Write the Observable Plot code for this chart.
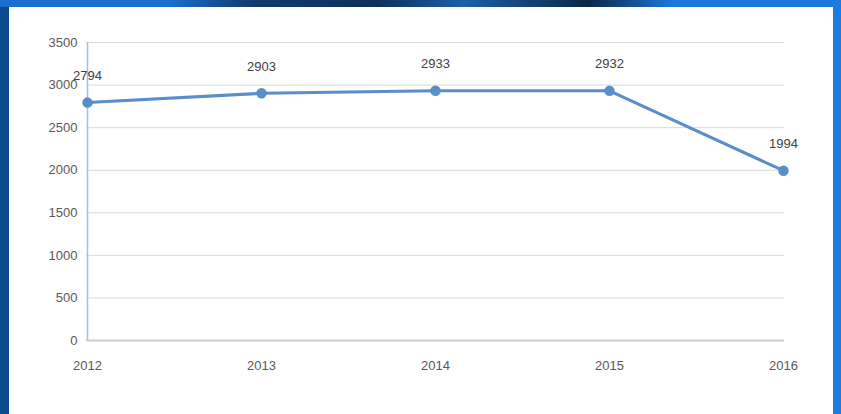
<!DOCTYPE html>
<html><head><meta charset="utf-8">
<script src="https://cdn.jsdelivr.net/npm/d3@7"></script>
<script src="https://cdn.jsdelivr.net/npm/@observablehq/plot@0.6"></script>
<style>
html,body{margin:0;padding:0;}
body{width:841px;height:414px;position:relative;overflow:hidden;background:#0c4a8c;}
#top{position:absolute;left:0;top:0;width:841px;height:7px;background:linear-gradient(90deg,#1a6fd0 0%,#1a6fd0 20%,#123a6e 30%,#0d2f5a 45%,#1e5fa8 55%,#0c2748 70%,#1c78dc 80%,#1c78dc 100%);}
#right{position:absolute;left:833px;top:0;width:8px;height:414px;background:#1b7be0;}
#panel{position:absolute;left:9px;top:7px;width:824px;height:407px;background:#fff;}
</style></head>
<body>
<div id="top"></div><div id="right"></div>
<div id="panel"></div>
<script>
const years = ["2012","2013","2014","2015","2016"];
const values = [2794, 2903, 2933, 2932, 1994];
const yTicks = [0, 500, 1000, 1500, 2000, 2500, 3000, 3500];

const data = years.map((y, i) => ({year: y, value: values[i]}));
const lineColor = "#5a8ec8";

const chart = Plot.plot({
  width: 824,
  height: 407,
  marginLeft: 77,
  marginRight: 49,
  marginTop: 35,
  marginBottom: 74,
  style: {fontFamily: "Liberation Sans, Arial, sans-serif", fontSize: "13px", color: "#595959", background: "transparent"},
  x: {type: "point", domain: years, padding: 0, label: null},
  y: {domain: [0, 3500], label: null},
  marks: [
    Plot.ruleY(yTicks.filter(d => d > 0), {stroke: "#d9d9d9", strokeWidth: 1}),
    Plot.ruleY([0], {stroke: "#d0d0d0", strokeWidth: 2}),
    Plot.ruleX([years[0]], {stroke: "#a9bfdc", strokeWidth: 1.5}),
    Plot.axisY({ticks: yTicks, tickFormat: d => String(d), tickSize: 0, tickPadding: 9, fill: "#595959", fontSize: 13}),
    Plot.axisX({tickSize: 0, tickPadding: 20, fill: "#595959", fontSize: 13}),
    Plot.line(data, {x: "year", y: "value", stroke: lineColor, strokeWidth: 3}),
    Plot.dot(data, {x: "year", y: "value", r: 4.5, fill: lineColor, stroke: lineColor}),
    Plot.text(data, {x: "year", y: "value", text: d => String(d.value), dy: -27, fill: "#404040", fontSize: 13})
  ]
});
document.getElementById("panel").appendChild(chart);
</script>
</body></html>
